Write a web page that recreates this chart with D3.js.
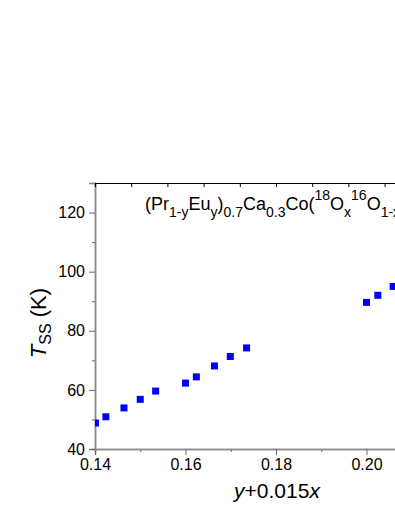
<!DOCTYPE html>
<html lang="en">
<head>
<meta charset="UTF-8">
<title>Tss vs y+0.015x</title>
<script src="https://cdn.jsdelivr.net/npm/d3@7"></script>
<style>
  body { margin: 0; background: #fff; }
  svg { display: block; font-family: "Liberation Sans", Arial, sans-serif; }
</style>
</head>
<body>
<div id="chart"></div>
<script>
    // data
    var xValues = [0.1401, 0.1424, 0.1464, 0.1500, 0.1534, 0.1600, 0.1624, 0.1664, 0.1699, 0.1735, 0.2000, 0.2025, 0.2059];
    var tssValues = [48.8, 50.9, 53.9, 56.8, 59.6, 62.3, 64.4, 68.1, 71.3, 74.2, 89.6, 92.0, 95.0];
    var xTickLabels = [0.14, 0.16, 0.18, 0.20];
    var yTickLabels = [40, 60, 80, 100, 120];

    var width = 395, height = 511;
    var plotLeft = 95, plotTop = 183, plotBottom = 449;

    var svg = d3.select("#chart").append("svg")
        .attr("width", width)
        .attr("height", height);

    // x scale runs off the right edge of the window, as in the picture
    var x = d3.scaleLinear().domain([0.14, 0.22]).range([plotLeft, plotLeft + 4525 * 0.08]);
    var y = d3.scaleLinear().domain([40, 130]).range([plotBottom, plotTop]);

    svg.append("clipPath").attr("id", "plot-clip")
        .append("rect")
        .attr("x", plotLeft).attr("y", plotTop)
        .attr("width", x(0.22) - plotLeft).attr("height", plotBottom - plotTop);

    // minor ticks
    var xAxisMinor = d3.axisBottom(x).tickValues([0.15, 0.17, 0.19, 0.21]).tickSize(3).tickFormat("");
    var yAxisMinor = d3.axisLeft(y).tickValues([50, 70, 90, 110, 130]).tickSize(3).tickFormat("");

    var gxm = svg.append("g").attr("transform", "translate(0," + plotBottom + ")").call(xAxisMinor);
    var gym = svg.append("g").attr("transform", "translate(" + plotLeft + ",0)").call(yAxisMinor);

    // major axes
    var xAxis = d3.axisBottom(x).tickValues(xTickLabels).tickSize(6).tickPadding(4)
        .tickFormat(d3.format(".2f"));
    var yAxis = d3.axisLeft(y).tickValues(yTickLabels).tickSize(6).tickPadding(4);

    var gx = svg.append("g").attr("transform", "translate(0," + plotBottom + ")").call(xAxis);
    var gy = svg.append("g").attr("transform", "translate(" + plotLeft + ",0)").call(yAxis);

    // top axis: inward ticks, no labels
    var xTop = d3.axisTop(x).tickValues(d3.range(0, 11).map(function (i) { return 0.14 + i * 0.008; }))
        .tickSize(-4).tickFormat("");
    var gt = svg.append("g").attr("transform", "translate(0," + plotTop + ")").call(xTop);

    [gxm, gym, gx, gy].forEach(function (g) {
        g.select(".domain").attr("stroke", "#8a8a8a").attr("stroke-width", 1.5);
        g.selectAll(".tick line").attr("stroke", "#6a6a6a").attr("stroke-width", 1);
    });
    gt.select(".domain").attr("stroke", "#000").attr("stroke-width", 1.2);
    gt.selectAll(".tick line").attr("stroke", "#000");

    gx.selectAll(".tick text").attr("font-size", 16).attr("fill", "#000")
        .attr("font-family", "Liberation Sans, Arial, sans-serif");
    gy.selectAll(".tick text").attr("font-size", 16).attr("fill", "#000")
        .attr("font-family", "Liberation Sans, Arial, sans-serif");

    // points
    var data = xValues.map(function (v, i) { return {x: v, t: tssValues[i]}; });
    var size = 7;
    svg.append("g").attr("clip-path", "url(#plot-clip)")
        .selectAll("rect.pt").data(data)
        .enter().append("rect")
        .attr("class", "pt")
        .attr("x", function (d) { return x(d.x) - size / 2; })
        .attr("y", function (d) { return y(d.t) - size / 2; })
        .attr("width", size)
        .attr("height", size)
        .attr("fill", "#0000ff");

    // compound label
    var title = svg.append("text")
        .attr("x", 145).attr("y", 210)
        .attr("font-size", 18).attr("fill", "#000");
    var parts = [
        ["(Pr", 0], ["1-y", 1], ["Eu", 0], ["y", 1], [")", 0], ["0.7", 1],
        ["Ca", 0], ["0.3", 1], ["Co(", 0], ["18", 2], ["O", 0], ["x", 1],
        ["16", 2], ["O", 0], ["1-x", 1], [")", 0], ["3", 1]
    ];
    var level = 0;
    var shift = {0: 0, 1: 7, 2: -10};
    parts.forEach(function (p) {
        var dy = shift[p[1]] - shift[level];
        title.append("tspan")
            .attr("dy", dy)
            .attr("font-size", p[1] === 0 ? 18 : 14)
            .text(p[0]);
        level = p[1];
    });

    // axis titles
    var xl = svg.append("text")
        .attr("x", 277).attr("y", 498)
        .attr("text-anchor", "middle")
        .attr("font-size", 21).attr("fill", "#000");
    xl.append("tspan").attr("font-style", "italic").text("y");
    xl.append("tspan").text("+0.015");
    xl.append("tspan").attr("font-style", "italic").text("x");

    var yl = svg.append("text")
        .attr("transform", "translate(46,323) rotate(-90)")
        .attr("text-anchor", "middle")
        .attr("font-size", 22).attr("fill", "#000");
    yl.append("tspan").attr("font-style", "italic").text("T");
    yl.append("tspan").attr("font-size", 16).attr("dy", 5).text("SS");
    yl.append("tspan").attr("dy", -5).text(" (K)");
</script>
</body>
</html>
